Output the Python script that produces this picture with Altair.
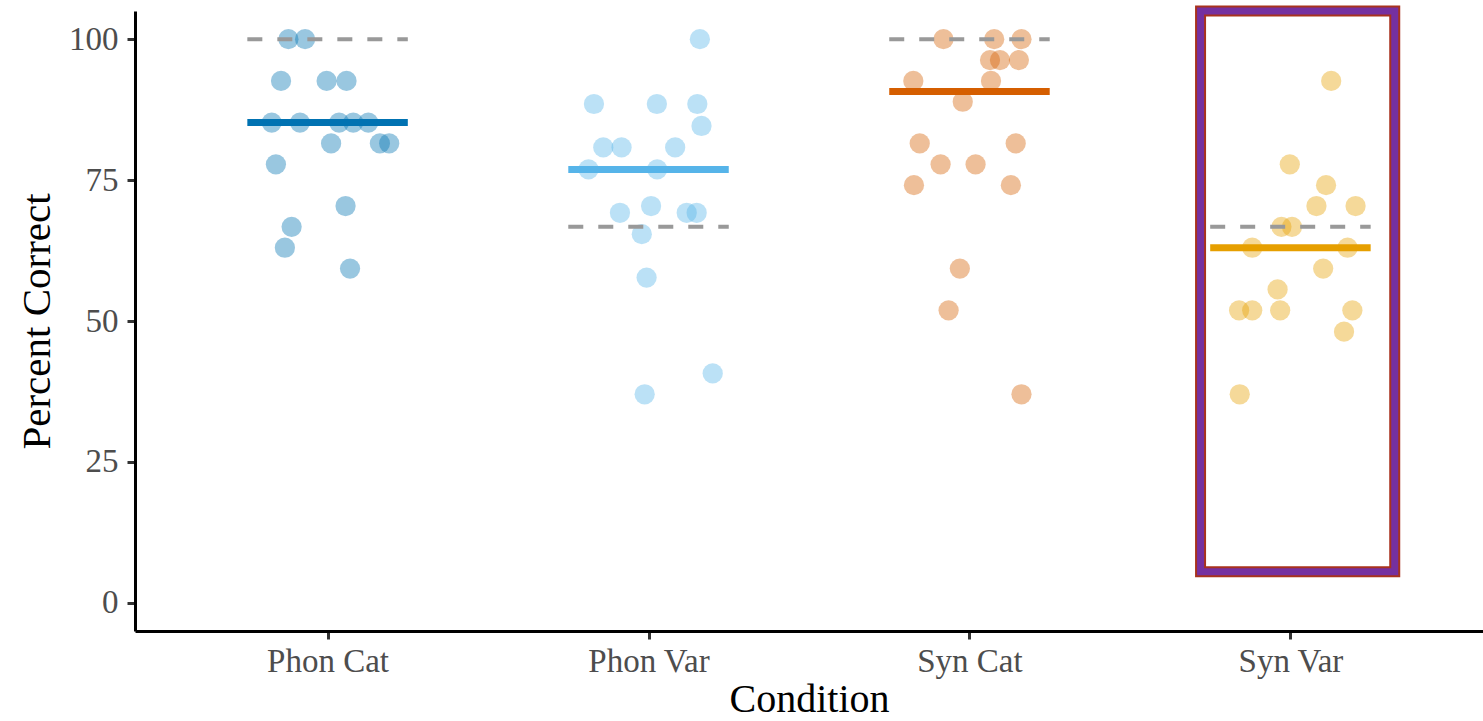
import altair as alt
import pandas as pd

conditions = ["Phon Cat", "Phon Var", "Syn Cat", "Syn Var"]
colors = ["#0072B2", "#56B4E9", "#D55E00", "#E69F00"]
medians = [85.2, 76.9, 90.7, 63.0]
chance = [100, 66.7, 100, 66.7]

phon_cat_vals = [100, 100, 92.6, 92.6, 92.6, 85.2, 85.2, 85.2, 85.2, 85.2,
                 81.5, 81.5, 81.5, 77.8, 70.4, 66.7, 63.0, 59.3]
phon_cat_jit = [-0.122, -0.070, -0.145, -0.003, 0.059, -0.174, -0.086, 0.036, 0.080, 0.127,
                0.011, 0.163, 0.192, -0.161, 0.056, -0.112, -0.133, 0.070]

phon_var_vals = [100, 88.5, 88.5, 88.5, 84.6, 80.8, 80.8, 80.8, 76.9, 76.9,
                 69.2, 70.4, 69.2, 69.2, 65.4, 57.7, 40.7, 37.0]
phon_var_jit = [0.160, -0.170, 0.026, 0.152, 0.165, -0.141, -0.084, 0.083, -0.187, 0.027,
                -0.089, 0.008, 0.119, 0.150, -0.021, -0.006, 0.200, -0.012]

syn_cat_vals = [100, 100, 100, 96.3, 96.3, 96.3, 92.6, 92.6, 88.9, 81.5,
                81.5, 77.8, 77.8, 74.1, 74.1, 59.3, 51.9, 37.0]
syn_cat_jit = [-0.081, 0.077, 0.162, 0.064, 0.095, 0.154, -0.175, 0.067, -0.021, -0.155,
               0.144, -0.090, 0.019, -0.173, 0.129, -0.030, -0.065, 0.162]

syn_var_vals = [92.6, 77.8, 74.1, 70.4, 70.4, 66.7, 66.7, 63.0, 63.0, 59.3,
                55.6, 51.9, 51.9, 51.9, 51.9, 48.1, 37.0]
syn_var_jit = [0.127, -0.002, 0.111, 0.081, 0.203, -0.028, 0.005, -0.119, 0.178, 0.102,
               -0.040, -0.160, -0.119, -0.032, 0.193, 0.167, -0.158]

highlight_x = [3.72, 4.325]
highlight_y = [5.5, 105]

groups = [(phon_cat_vals, phon_cat_jit), (phon_var_vals, phon_var_jit),
          (syn_cat_vals, syn_cat_jit), (syn_var_vals, syn_var_jit)]
rows = []
for i, (vals, jits) in enumerate(groups):
    for v, j in zip(vals, jits):
        rows.append({"cond": conditions[i], "idx": i + 1, "val": v, "jit": j})
points_df = pd.DataFrame(rows)

summary_df = pd.DataFrame({"cond": conditions, "idx": [1, 2, 3, 4],
                           "median": medians, "chance": chance})
rect_df = pd.DataFrame({"x1": [highlight_x[0]], "x2": [highlight_x[1]],
                        "y1": [highlight_y[0]], "y2": [highlight_y[1]]})

xscale = alt.Scale(domain=[0.4, 4.6], nice=False, zero=False)
yscale = alt.Scale(domain=[-5, 105], nice=False, zero=False)
xaxis = alt.Axis(values=[1, 2, 3, 4],
                 labelExpr="['Phon Cat','Phon Var','Syn Cat','Syn Var'][datum.value-1]",
                 title="Condition", titleFontSize=40, titlePadding=1)
yaxis = alt.Axis(values=[0, 25, 50, 75, 100], title="Percent Correct")
color = alt.Color("cond:N", scale=alt.Scale(domain=conditions, range=colors), legend=None)

points = alt.Chart(points_df).transform_calculate(
    xpos="datum.idx + datum.jit"
).mark_circle(size=410, opacity=0.4).encode(
    x=alt.X("xpos:Q", scale=xscale, axis=xaxis),
    y=alt.Y("val:Q", scale=yscale, axis=yaxis),
    color=color,
)

base = alt.Chart(summary_df).transform_calculate(
    lo="datum.idx - 0.25", hi="datum.idx + 0.25"
)

dashed = base.mark_rule(strokeWidth=4, strokeDash=[15, 15], color="#999999", strokeCap="butt").encode(
    x=alt.X("lo:Q", scale=xscale, axis=xaxis),
    x2="hi:Q",
    y=alt.Y("chance:Q", scale=yscale, axis=yaxis),
)

median_lines = base.mark_rule(strokeWidth=7, strokeCap="butt").encode(
    x=alt.X("lo:Q", scale=xscale, axis=xaxis),
    x2="hi:Q",
    y=alt.Y("median:Q", scale=yscale, axis=yaxis),
    color=color,
)

rect_outer = alt.Chart(rect_df).mark_rect(fill="transparent", stroke="#A8321E", strokeWidth=11).encode(
    x=alt.X("x1:Q", scale=xscale, axis=xaxis), x2="x2:Q",
    y=alt.Y("y1:Q", scale=yscale, axis=yaxis), y2="y2:Q",
)
rect_inner = alt.Chart(rect_df).mark_rect(fill="transparent", stroke="#7530A0", strokeWidth=7).encode(
    x=alt.X("x1:Q", scale=xscale, axis=xaxis), x2="x2:Q",
    y=alt.Y("y1:Q", scale=yscale, axis=yaxis), y2="y2:Q",
)

chart = alt.layer(points, dashed, median_lines, rect_outer, rect_inner).properties(
    width=1348, height=620,
    padding={"left": 135, "top": 11, "right": 0, "bottom": 90},
    autosize=alt.AutoSizeParams(type="none"),
).configure_view(stroke=None).configure_axis(
    grid=False,
    domainColor="#000000", domainWidth=3,
    tickColor="#333333", tickWidth=3, tickSize=8,
    labelFont="Liberation Serif", labelFontSize=33, labelColor="#4D4D4D",
    titleFont="Liberation Serif", titleFontSize=41, titleColor="#000000",
    titleFontWeight="normal",
).configure_axisY(labelPadding=9, titlePadding=10).configure_axisX(
    labelPadding=6
)

chart.save("out.html", embed_options={"renderer": "svg", "actions": False})
